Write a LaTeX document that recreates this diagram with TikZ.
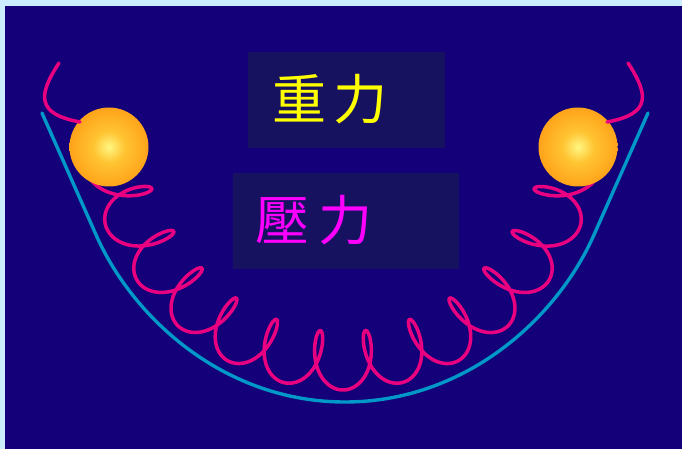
\documentclass[tikz,border=0pt]{standalone}
\usepackage{fontspec}
\newfontfamily\cjk{Noto Sans CJK TC}
\definecolor{frame}{RGB}{204,236,255}
\definecolor{night}{RGB}{20,0,120}
\definecolor{panel}{RGB}{22,18,96}
\definecolor{rail}{RGB}{0,152,200}
\definecolor{spring}{RGB}{232,0,128}
\definecolor{ballin}{RGB}{255,246,130}
\definecolor{ballmid}{RGB}{255,196,50}
\definecolor{ballout}{RGB}{255,152,18}
\definecolor{ballrim}{RGB}{232,122,10}
\definecolor{gravity}{RGB}{255,255,0}
\definecolor{pressure}{RGB}{255,0,255}
\pgfdeclareradialshading{ballshade}{\pgfpoint{0bp}{0bp}}{%
  color(0bp)=(ballin); color(10bp)=(ballmid); color(30bp)=(ballout);
  color(46bp)=(ballout); color(50bp)=(ballrim)}
\begin{document}
\begin{tikzpicture}[x=1pt,y=-1pt,
  % coil along a circle round (343,150): angle, then radius
  declare function={
    th(\t)=168.65-0.039722*\t+3.98*sin(\t);
    qq(\t)=(th(\t)-90)/80;
    rr(\t)=211+14*qq(\t)*qq(\t)*qq(\t)*qq(\t)-29*cos(\t);
  },
  railline/.style={draw=rail,line width=3.4pt,line cap=round,line join=round},
  springline/.style={draw=spring,line width=3.5pt,line cap=round,line join=round},
  ball/.style={circle,inner sep=0pt,minimum size=79pt,shading=ballshade},
  panelbox/.style={fill=panel,inner sep=0pt},
  label/.style={inner sep=0pt,font=\cjk\fontsize{54}{54}\selectfont}]
\useasboundingbox (0,0) rectangle (682,449);
\fill[frame] (0,0) rectangle (682,449);
\fill[night] (5,6) rectangle (682,449);

% the track
\coordinate (railL) at (42,113);
\coordinate (railR) at (648,113);
\draw[railline] (railL) -- (97,237) .. controls (134,319) and (225,402) .. (345,402)
  .. controls (465,402) and (556,319) .. (593,237) -- (railR);

% the spring
\draw[springline] plot[domain=-180:4140,samples=1000,variable=\p]
  ({343+rr(\p)*cos(th(\p))},{150+rr(\p)*sin(th(\p))});

% the two balls and the spring ends above them
\node[ball] (ballL) at (109,147) {};
\node[ball] (ballR) at (578,147) {};
\coordinate (hookL) at (59,63);
\coordinate (hookR) at (628,63);
\draw[springline] (hookL) .. controls (38,95) and (36,114) .. (80,122);
\draw[springline] (hookR) .. controls (649,95) and (651,114) .. (607,122);

% labels
\node[panelbox,minimum width=197pt,minimum height=96pt] (gbox) at (346.5,100) {};
\node[panelbox,minimum width=226pt,minimum height=96pt] (pbox) at (346,221) {};
\node[label,text=gravity] (gtext) at (330,99) {重\kern8pt力};
\node[label,text=pressure] (ptext) at (314,220) {壓\kern9pt力};
\end{tikzpicture}
\end{document}
